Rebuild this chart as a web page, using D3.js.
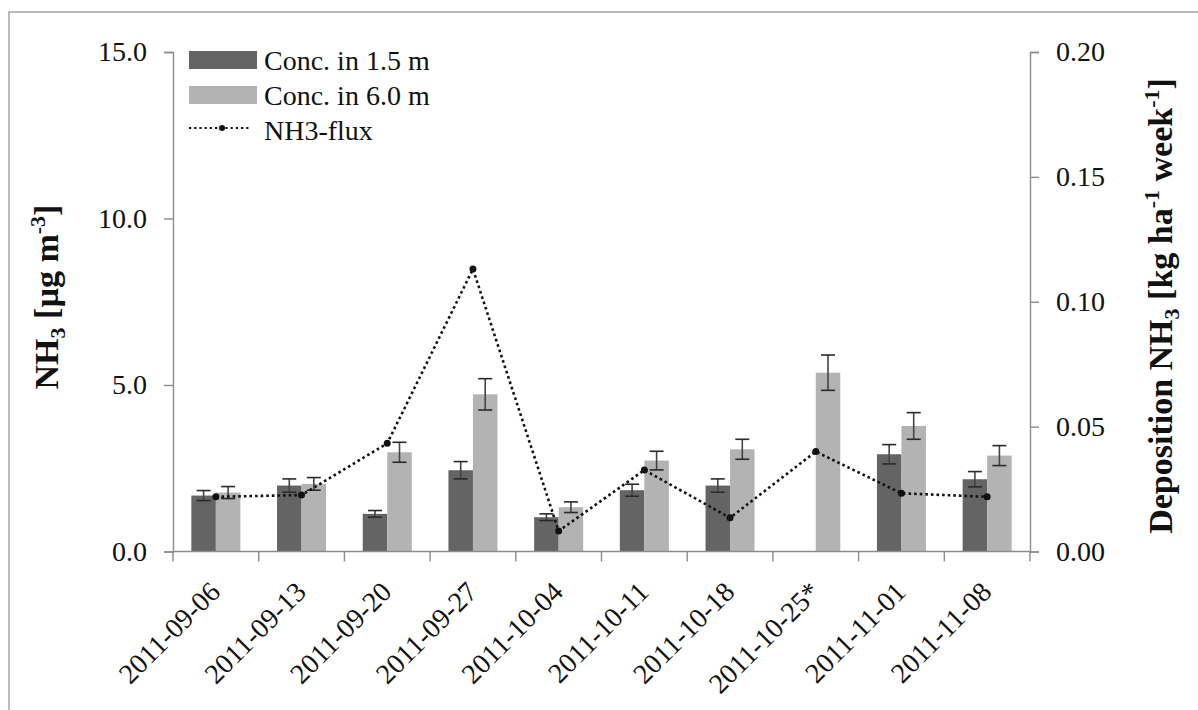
<!DOCTYPE html>
<html>
<head>
<meta charset="utf-8">
<script src="https://cdn.jsdelivr.net/npm/d3@7"></script>
<style>
  body { margin: 0; background: #fff; }
  svg { display: block; }
  text { font-family: "Liberation Serif", "Times New Roman", serif; fill: #111; }
</style>
</head>
<body>
<div id="chart"></div>
<script>
// weekly sampling dates (the * week has no 1.5 m value)
const dates = ["2011-09-06", "2011-09-13", "2011-09-20", "2011-09-27", "2011-10-04",
               "2011-10-11", "2011-10-18", "2011-10-25*", "2011-11-01", "2011-11-08"];
// NH3 concentration in 1.5 m and 6.0 m [µg m-3] with error
const conc15 = [1.68, 1.98, 1.13, 2.44, 1.03, 1.84, 1.98, null, 2.92, 2.17];
const err15  = [0.15, 0.20, 0.10, 0.26, 0.10, 0.18, 0.20, null, 0.29, 0.23];
const conc60 = [1.77, 2.03, 2.98, 4.72, 1.33, 2.73, 3.07, 5.37, 3.77, 2.88];
const err60  = [0.18, 0.19, 0.30, 0.47, 0.16, 0.28, 0.30, 0.53, 0.40, 0.30];
// deposition flux [kg ha-1 week-1]
const flux = [0.0219, 0.0226, 0.0433, 0.1131, 0.0082, 0.0326, 0.0135, 0.040, 0.0233, 0.0219];

const leftTicks = [0, 5, 10, 15];
const rightTicks = [0, 0.05, 0.10, 0.15, 0.20];
const seriesNames = ["Conc. in 1.5 m", "Conc. in 6.0 m", "NH3-flux"];

const W = 1198, H = 710;
const plot = { left: 173, right: 1030, top: 52, bottom: 551.5 };
const colors = { dark: "#646464", light: "#b3b3b3", axis: "#8c8c8c" };

const svg = d3.select("#chart").append("svg")
    .attr("width", W)
    .attr("height", H);

// outer chart frame (only top/left fall inside the picture)
svg.append("rect")
    .attr("x", 9).attr("y", 12)
    .attr("width", W + 20).attr("height", H + 20)
    .attr("fill", "none")
    .attr("stroke", "#a6a6a6")
    .attr("stroke-width", 1.5);

const x = d3.scaleBand()
    .domain(dates)
    .range([plot.left, plot.right]);

const yL = d3.scaleLinear().domain([0, 15]).range([plot.bottom, plot.top]);
const yR = d3.scaleLinear().domain([0, 0.2]).range([plot.bottom, plot.top]);

const bw = x.bandwidth() * 0.286;
const cx = d => x(d) + x.bandwidth() / 2;

// bars
const bars = [
    { vals: conc15, errs: err15, fill: colors.dark, off: -bw },
    { vals: conc60, errs: err60, fill: colors.light, off: 0 }
];

bars.forEach(s => {
    const rows = dates.map((d, i) => ({ d, v: s.vals[i], e: s.errs[i] })).filter(r => r.v != null);
    svg.append("g").selectAll("rect")
        .data(rows)
        .join("rect")
        .attr("x", r => cx(r.d) + s.off)
        .attr("y", r => yL(r.v))
        .attr("width", bw)
        .attr("height", r => yL(0) - yL(r.v))
        .attr("fill", s.fill);

    // error bars
    const eg = svg.append("g").attr("stroke", "#2a2a2a").attr("stroke-width", 1.6);
    const capW = 7;
    rows.forEach(r => {
        const mx = cx(r.d) + s.off + bw / 2;
        eg.append("line").attr("x1", mx).attr("x2", mx)
            .attr("y1", yL(r.v - r.e)).attr("y2", yL(r.v + r.e)).attr("stroke", "#444");
        [r.v - r.e, r.v + r.e].forEach(v => {
            eg.append("line").attr("x1", mx - capW).attr("x2", mx + capW)
                .attr("y1", yL(v)).attr("y2", yL(v));
        });
    });
});

// axes
const axisL = svg.append("g")
    .attr("transform", `translate(${plot.left},0)`)
    .call(d3.axisLeft(yL).tickValues(leftTicks).tickFormat(d3.format(".1f")).tickSize(9).tickPadding(17));
const axisR = svg.append("g")
    .attr("transform", `translate(${plot.right},0)`)
    .call(d3.axisRight(yR).tickValues(rightTicks).tickFormat(d3.format(".2f")).tickSize(9).tickPadding(17));
const axisB = svg.append("g")
    .attr("transform", `translate(0,${plot.bottom})`)
    .call(d3.axisBottom(x).tickSize(0).tickFormat(""));

[axisL, axisR, axisB].forEach(a => {
    a.select(".domain").attr("stroke", colors.axis).attr("stroke-width", 1.4);
    a.selectAll(".tick line").attr("stroke", colors.axis).attr("stroke-width", 1.4);
    a.selectAll(".tick text")
        .attr("font-family", "Liberation Serif, serif")
        .attr("font-size", 28)
        .attr("fill", "#111");
});
axisB.select(".domain").attr("d", `M${plot.left},0H${plot.right}`);

// x ticks at category boundaries
const bounds = dates.map(d => x(d)).concat([plot.right]);
svg.append("g").selectAll("line")
    .data(bounds)
    .join("line")
    .attr("x1", d => d).attr("x2", d => d)
    .attr("y1", plot.bottom).attr("y2", plot.bottom + 10)
    .attr("stroke", colors.axis).attr("stroke-width", 1.4);

// rotated date labels
svg.append("g").selectAll("text")
    .data(dates)
    .join("text")
    .attr("transform", d => `translate(${cx(d) + 6},${plot.bottom + 42}) rotate(-45)`)
    .attr("text-anchor", "end")
    .attr("font-size", 28)
    .text(d => d);

// flux line
const line = d3.line()
    .x((d, i) => cx(dates[i]))
    .y(d => yR(d));

svg.append("path")
    .datum(flux)
    .attr("d", line)
    .attr("fill", "none")
    .attr("stroke", "#111")
    .attr("stroke-width", 2.6)
    .attr("stroke-dasharray", "2.6,3");

svg.append("g").selectAll("circle")
    .data(flux)
    .join("circle")
    .attr("cx", (d, i) => cx(dates[i]))
    .attr("cy", d => yR(d))
    .attr("r", 3.5)
    .attr("fill", "#111");

// axis titles
const titleL = svg.append("text")
    .attr("transform", `translate(58,297) rotate(-90)`)
    .attr("text-anchor", "middle")
    .attr("font-size", 34)
    .attr("font-weight", "bold");
titleL.append("tspan").text("NH");
titleL.append("tspan").attr("font-size", 22).attr("dy", 7).text("3");
titleL.append("tspan").attr("dy", -7).text(" [µg m");
titleL.append("tspan").attr("font-size", 22).attr("dy", -13).text("-3");
titleL.append("tspan").attr("dy", 13).text("]");

const titleR = svg.append("text")
    .attr("transform", `translate(1172,306) rotate(-90)`)
    .attr("text-anchor", "middle")
    .attr("font-size", 34)
    .attr("font-weight", "bold");
titleR.append("tspan").text("Deposition NH");
titleR.append("tspan").attr("font-size", 22).attr("dy", 7).text("3");
titleR.append("tspan").attr("dy", -7).text(" [kg ha");
titleR.append("tspan").attr("font-size", 22).attr("dy", -13).text("-1");
titleR.append("tspan").attr("dy", 13).text(" week");
titleR.append("tspan").attr("font-size", 22).attr("dy", -13).text("-1");
titleR.append("tspan").attr("dy", 13).text("]");

// legend
const legend = svg.append("g").attr("transform", "translate(189,51)");
[colors.dark, colors.light].forEach((c, i) => {
    legend.append("rect")
        .attr("x", 0).attr("y", i * 35)
        .attr("width", 68).attr("height", 18)
        .attr("fill", c);
});
legend.append("line")
    .attr("x1", 0).attr("x2", 62)
    .attr("y1", 77).attr("y2", 77)
    .attr("stroke", "#111").attr("stroke-width", 2.2)
    .attr("stroke-dasharray", "2.2,3");
legend.append("circle").attr("cx", 33).attr("cy", 77).attr("r", 3).attr("fill", "#111");
legend.selectAll("text.lbl")
    .data(seriesNames)
    .join("text")
    .attr("class", "lbl")
    .attr("x", 75)
    .attr("y", (d, i) => 19 + i * 35)
    .attr("font-size", 28)
    .text(d => d);
</script>
</body>
</html>
